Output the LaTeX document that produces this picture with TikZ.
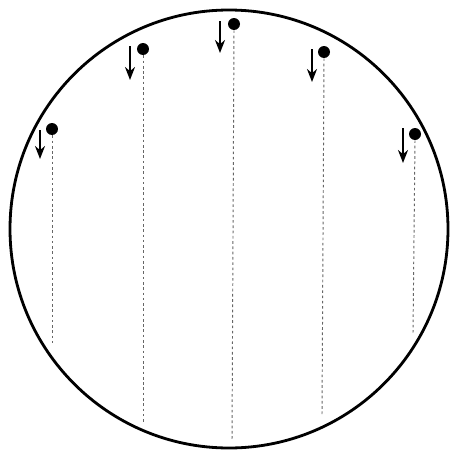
\documentclass[tikz,border=0pt]{standalone}
\usetikzlibrary{arrows.meta}
\begin{document}
\begin{tikzpicture}[x=0.02cm,y=-0.02cm,
  ball/.style={circle,fill=black,inner sep=0pt,minimum size=0.24cm},
  fall/.style={-{Stealth[length=0.26cm,width=0.2cm]},line width=1.3pt},
  trace/.style={gray!80!black,line width=0.55pt,dash pattern=on 1.5pt off 1.5pt}]
\useasboundingbox (0,0) rectangle (450,450);
\draw[line width=1.6pt] (229,229) circle[radius=219];
% balls on the rim
\node (b1) at (52,129) [ball] {};
\node (b2) at (143,49) [ball] {};
\node (b3) at (234,24) [ball] {};
\node (b4) at (324,52) [ball] {};
\node (b5) at (415,134) [ball] {};
% where the traces end
\coordinate (e1) at (52,343);
\coordinate (e2) at (143,422);
\coordinate (e3) at (232,441);
\coordinate (e4) at (322,415);
\coordinate (e5) at (413,333);
\draw[trace] (b1.south) -- (e1);
\draw[trace] (b2.south) -- (e2);
\draw[trace] (b3.south) -- (e3);
\draw[trace] (b4.south) -- (e4);
\draw[trace] (b5.south) -- (e5);
% falling arrows
\draw[fall] ([xshift=-0.24cm,yshift=-0.02cm]b1.center) -- ([xshift=-0.24cm,yshift=-0.6cm]b1.center);
\draw[fall] ([xshift=-0.26cm,yshift=0.06cm]b2.center) -- ([xshift=-0.26cm,yshift=-0.62cm]b2.center);
\draw[fall] ([xshift=-0.28cm,yshift=0.06cm]b3.center) -- ([xshift=-0.28cm,yshift=-0.58cm]b3.center);
\draw[fall] ([xshift=-0.24cm,yshift=0.06cm]b4.center) -- ([xshift=-0.24cm,yshift=-0.6cm]b4.center);
\draw[fall] ([xshift=-0.24cm,yshift=0.12cm]b5.center) -- ([xshift=-0.24cm,yshift=-0.58cm]b5.center);
\end{tikzpicture}
\end{document}
